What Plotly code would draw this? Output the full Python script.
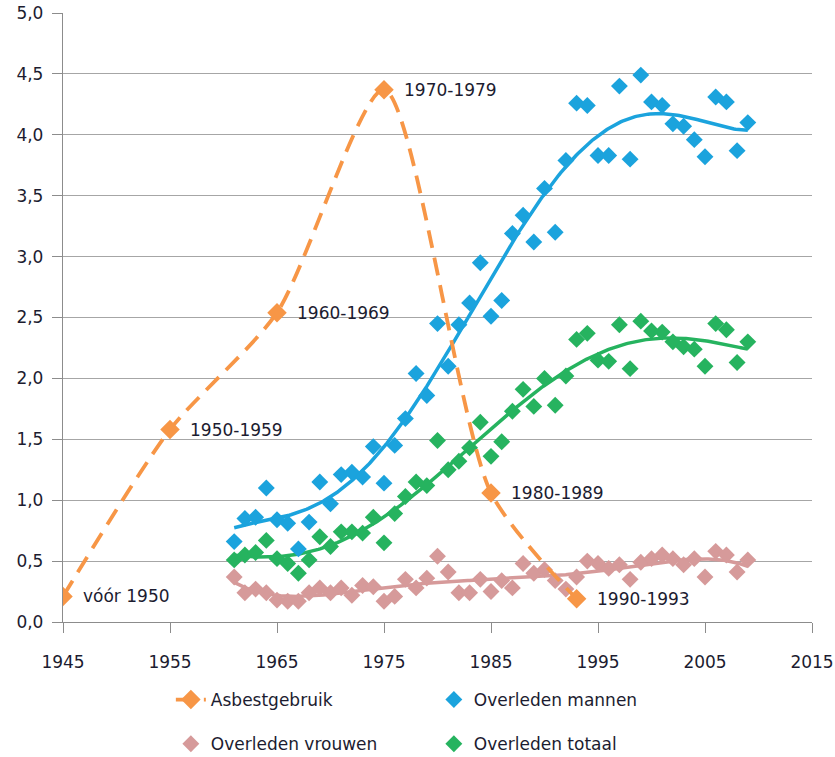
import numpy as np
import plotly.graph_objects as go

# ---- data ----
asbest_years = [1945, 1955, 1965, 1975, 1985, 1993]
asbest_values = [0.21, 1.58, 2.54, 4.37, 1.06, 0.19]
asbest_labels = ["vóór 1950", "1950-1959", "1960-1969", "1970-1979", "1980-1989", "1990-1993"]

years = list(range(1961, 2010))
men = [0.66, 0.85, 0.86, 1.10, 0.84, 0.81, 0.60, 0.82, 1.15, 0.97,
       1.21, 1.23, 1.19, 1.44, 1.14, 1.45, 1.67, 2.04, 1.86, 2.45,
       2.10, 2.44, 2.62, 2.95, 2.51, 2.64, 3.19, 3.34, 3.12, 3.56,
       3.20, 3.79, 4.26, 4.24, 3.83, 3.83, 4.40, 3.80, 4.49, 4.27,
       4.24, 4.09, 4.07, 3.96, 3.82, 4.31, 4.27, 3.87, 4.10]
women = [0.37, 0.24, 0.27, 0.24, 0.18, 0.17, 0.17, 0.24, 0.28, 0.24,
         0.28, 0.22, 0.30, 0.29, 0.17, 0.21, 0.35, 0.28, 0.36, 0.54,
         0.41, 0.24, 0.24, 0.35, 0.25, 0.34, 0.28, 0.48, 0.40, 0.43,
         0.34, 0.27, 0.37, 0.50, 0.48, 0.44, 0.47, 0.35, 0.49, 0.52,
         0.55, 0.52, 0.47, 0.52, 0.37, 0.58, 0.55, 0.41, 0.51]
total = [0.51, 0.55, 0.57, 0.67, 0.52, 0.48, 0.40, 0.51, 0.70, 0.62,
         0.74, 0.74, 0.73, 0.86, 0.65, 0.89, 1.03, 1.15, 1.12, 1.49,
         1.25, 1.32, 1.43, 1.64, 1.36, 1.48, 1.73, 1.91, 1.77, 2.00,
         1.78, 2.02, 2.32, 2.37, 2.15, 2.14, 2.44, 2.08, 2.47, 2.39,
         2.38, 2.30, 2.26, 2.24, 2.10, 2.45, 2.40, 2.13, 2.30]

x_ticks = [1945, 1955, 1965, 1975, 1985, 1995, 2005, 2015]
y_ticks = [0.0, 0.5, 1.0, 1.5, 2.0, 2.5, 3.0, 3.5, 4.0, 4.5, 5.0]
y_ticktext = [f"{v:.1f}".replace(".", ",") for v in y_ticks]

ORANGE = "#F79646"
BLUE = "#1BA3DD"
GREEN = "#26B35F"
PINK = "#D69A9A"
FONT = "DejaVu Sans"
TXT = "#1c1c30"
FS = 17


def trend(xs, ys, deg=5):
    xa = np.array(xs, dtype=float)
    c = (xa - 1985.0) / 25.0
    p = np.polyfit(c, np.array(ys, dtype=float), deg)
    xd = np.linspace(xa.min(), xa.max(), 300)
    return xd, np.polyval(p, (xd - 1985.0) / 25.0)


fig = go.Figure()

# trendlines
for ys, col in [(women, PINK), (total, GREEN), (men, BLUE)]:
    tx, ty = trend(years, ys)
    fig.add_trace(go.Scatter(x=tx, y=ty, mode="lines", line=dict(color=col, width=3.5),
                             showlegend=False, hoverinfo="skip"))

mk = dict(symbol="diamond", size=13)
fig.add_trace(go.Scatter(x=years, y=women, mode="markers", name="Overleden vrouwen",
                         marker=dict(color=PINK, **mk), legend="legend2"))
fig.add_trace(go.Scatter(x=years, y=total, mode="markers", name="Overleden totaal",
                         marker=dict(color=GREEN, **mk), legend="legend2"))
fig.add_trace(go.Scatter(x=years, y=men, mode="markers", name="Overleden mannen",
                         marker=dict(color=BLUE, **mk), legend="legend"))
fig.add_trace(go.Scatter(x=asbest_years, y=asbest_values, mode="lines+markers", name="Asbestgebruik",
                         line=dict(color=ORANGE, width=3.8, dash="18px,10px", shape="spline", smoothing=0.7),
                         marker=dict(color=ORANGE, symbol="diamond", size=15), legend="legend"))

for xv, yv, t in zip(asbest_years, asbest_values, asbest_labels):
    fig.add_annotation(x=xv, y=yv, text=t, showarrow=False, xanchor="left", yanchor="middle",
                       xshift=18, font=dict(family=FONT, size=FS, color=TXT))

axis_common = dict(showline=True, linecolor="#8c8c8c", linewidth=1.3,
                   ticks="outside", tickcolor="#8c8c8c", ticklen=10, tickwidth=1.3,
                   tickfont=dict(family=FONT, size=FS, color=TXT), zeroline=False,
                   ticklabeloverflow="allow")

fig.update_xaxes(range=[1945, 2015], tickvals=x_ticks, showgrid=False,
                 ticklabelstandoff=14, **axis_common)
fig.update_yaxes(range=[0, 5], tickvals=y_ticks, ticktext=y_ticktext, showgrid=True,
                 gridcolor="#a6a6a6", gridwidth=1.3, ticklabelstandoff=5, **axis_common)

fig.update_layout(
    width=835, height=757,
    margin=dict(l=63, r=23, t=13, b=135, autoexpand=False),
    paper_bgcolor="white", plot_bgcolor="white",
    font=dict(family=FONT, size=FS, color=TXT),
    legend=dict(orientation="h", x=0.144, xanchor="left", y=-0.0985, yanchor="top",
                entrywidth=218, font=dict(family=FONT, size=FS, color=TXT),
                traceorder="reversed"),
    legend2=dict(orientation="h", x=0.144, xanchor="left", y=-0.171, yanchor="top",
                 entrywidth=218, font=dict(family=FONT, size=FS, color=TXT)),
)

fig.write_html("out.html", config={"displayModeBar": False},
               post_script="document.body.style.margin='0';")
